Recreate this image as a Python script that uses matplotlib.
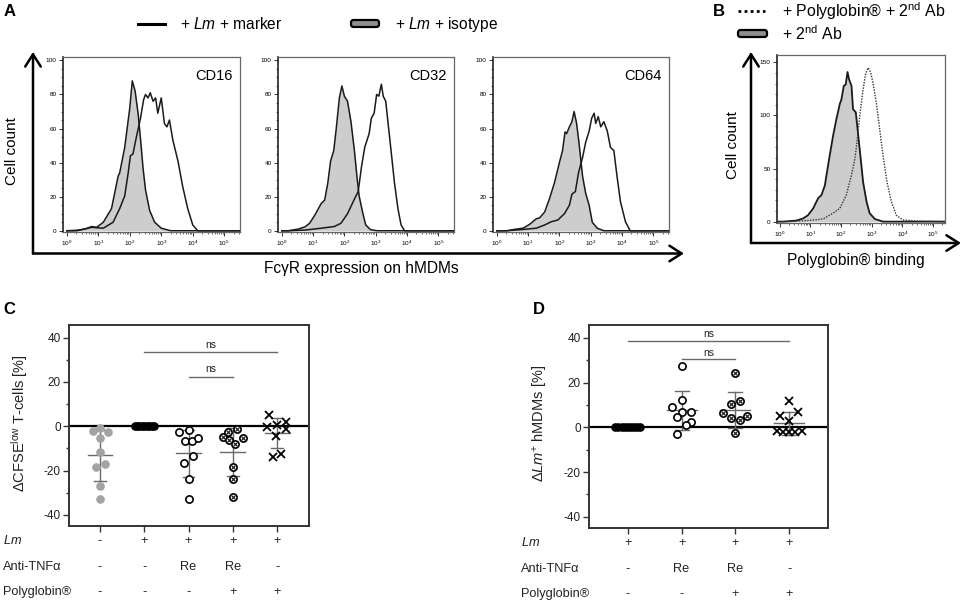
import numpy as np
import matplotlib
matplotlib.use('Agg')
import matplotlib.pyplot as plt
from matplotlib.patches import FancyBboxPatch
from matplotlib.transforms import blended_transform_factory

plt.rcParams['font.family'] = ['Liberation Sans', 'DejaVu Sans']
plt.rcParams['mathtext.fontset'] = 'custom'
plt.rcParams['mathtext.rm'] = 'Liberation Sans'
plt.rcParams['mathtext.it'] = 'Liberation Sans:italic'
plt.rcParams['mathtext.bf'] = 'Liberation Sans:bold'

# ---------------- data: panel A histograms (log10 fluorescence, cell count)
cd16_marker_x = [0.0, 0.32, 0.79, 1.16, 1.47, 1.68, 1.84, 1.95, 2.02, 2.1, 2.21, 2.34, 2.44, 2.5, 2.58,
                 2.65, 2.74, 2.82, 2.89, 3.0, 3.1, 3.18, 3.26, 3.37, 3.53, 3.68, 3.84, 4.0, 4.16, 5.5]
cd16_marker_y = [0, 0, 2, 1.5, 5, 13, 20.5, 34, 44, 45, 55, 66, 77, 80, 78,
                 81, 76, 78, 69, 78, 63, 61, 65, 53, 41, 26, 13, 3.4, 0, 0]
cd16_iso_x = [0.0, 0.32, 0.58, 0.79, 0.95, 1.16, 1.42, 1.63, 1.68, 1.84, 2.0, 2.08, 2.17, 2.27, 2.35,
              2.42, 2.5, 2.63, 2.79, 3.0, 3.3, 5.5]
cd16_iso_y = [0, 0.3, 1, 2.5, 2, 5, 13, 32, 34, 49, 72, 88, 82, 68, 52,
              37, 24, 12, 5, 1.5, 0, 0]

cd32_marker_x = [0.0, 0.21, 0.74, 1.26, 1.68, 1.89, 2.1, 2.32, 2.44, 2.55, 2.65, 2.79, 2.86, 2.95, 3.03,
                 3.1, 3.18, 3.24, 3.32, 3.39, 3.49, 3.6, 3.71, 3.81, 3.92, 5.5]
cd32_marker_y = [0, 0, 0.4, 1.5, 2.5, 4.4, 10, 18.6, 23, 38, 49, 57, 66, 69, 80,
                 79, 86, 79, 76, 64, 47, 28, 13, 3.4, 0, 0]
cd32_iso_x = [0.0, 0.21, 0.53, 0.74, 0.89, 1.05, 1.26, 1.37, 1.47, 1.56, 1.66, 1.74, 1.84, 1.92, 2.0,
              2.1, 2.21, 2.32, 2.4, 2.47, 2.58, 2.68, 2.84, 3.05, 5.5]
cd32_iso_y = [0, 0, 1, 2.3, 4.4, 9, 16, 18, 28, 41, 47, 60, 78, 85, 79,
              76, 64, 47, 32, 20.5, 11, 3.4, 0.6, 0, 0]

cd64_marker_x = [0.0, 0.32, 0.74, 1.26, 1.53, 1.74, 1.95, 2.16, 2.32, 2.4, 2.51, 2.61, 2.74, 2.84, 2.95,
                 3.03, 3.11, 3.16, 3.24, 3.32, 3.42, 3.53, 3.63, 3.74, 3.84, 3.95, 4.11, 4.26, 5.5]
cd64_marker_y = [0, 0, 0.6, 1.5, 3.4, 5.3, 6.3, 10, 15, 21.5, 23, 34, 43, 52, 58.5,
                 66, 69, 63, 67, 61, 64, 58.5, 49, 47, 32, 17, 5.3, 0, 0]
cd64_iso_x = [0.0, 0.32, 0.63, 0.84, 1.05, 1.26, 1.37, 1.53, 1.68, 1.84, 2.0, 2.1, 2.18, 2.23, 2.32,
              2.4, 2.47, 2.55, 2.63, 2.74, 2.84, 2.95, 3.05, 3.21, 3.42, 5.5]
cd64_iso_y = [0, 0, 1, 1.5, 3.8, 7, 7.6, 11, 18.6, 28, 40, 47, 58, 57, 61,
              64, 70, 63, 51, 32, 22, 15, 5, 1.5, 0, 0]

# ---------------- data: panel B
poly_x = [-0.1, 0.33, 0.98, 1.41, 1.74, 1.96, 2.17, 2.34, 2.45, 2.52, 2.61, 2.72, 2.8, 2.88, 2.96,
          3.04, 3.15, 3.26, 3.37, 3.5, 3.64, 3.8, 4.02, 4.46, 5.4]
poly_y = [0, 0, 1.2, 2.5, 8, 12.5, 25, 44, 59, 75, 100, 125, 139, 145, 141,
          131, 112, 87, 62, 37, 19, 6, 1.6, 0.6, 0]
ab2_x = [-0.1, 0.11, 0.54, 0.76, 0.92, 1.09, 1.25, 1.36, 1.47, 1.61, 1.74, 1.85, 1.96, 2.01, 2.09,
         2.15, 2.21, 2.26, 2.34, 2.39, 2.48, 2.55, 2.63, 2.72, 2.83, 2.93, 3.1, 3.37, 5.4]
ab2_y = [0, 0, 1, 3, 6, 12.5, 22, 25, 34, 59, 81, 97, 111, 115, 128,
         129, 141, 134, 128, 106, 103, 84, 62, 37, 19, 8, 2.5, 0, 0]

# ---------------- data: panel C (delta CFSE-low T cells, %)
c_group0 = [-2.0, -0.8, -2.7, -5.4, -11.7, -18.5, -17.0, -27.0, -33.0]
c_group1 = [0, 0, 0, 0, 0, 0, 0, 0, 0]
c_group2 = [-2.7, -1.5, -6.5, -6.8, -5.4, -13.5, -16.5, -24.0, -33.0]
c_group3 = [-5.0, -2.4, -1.2, -6.2, -8.0, -5.4, -18.5, -24.0, -32.0]
c_group4 = [5.3, -0.2, 0.8, 1.8, -1.2, -4.2, -12.5, -13.7]
c_lm = ['-', '+', '+', '+', '+']
c_tnf = ['-', '-', 'Re', 'Re', '-']
c_poly = ['-', '-', '-', '+', '+']

# ---------------- data: panel D (delta Lm+ hMDMs, %)
d_group0 = [0, 0, 0, 0, 0, 0, 0, 0, 0]
d_group1 = [27.3, 12.3, 9.0, 7.0, 7.0, 4.8, 2.3, 1.2, -3.0]
d_group2 = [24.2, 11.7, 10.2, 6.6, 4.0, 3.3, 5.2, -2.7]
d_group3 = [11.7, 6.7, 5.2, 3.0, -1.5, -2.2, -2.2, -2.2, -1.8]
d_lm = ['+', '+', '+', '+']
d_tnf = ['-', 'Re', 'Re', '-']
d_poly = ['-', '-', '+', '+']

# horizontal scatter of the points within a group (layout only)
c_off0 = [-0.165, 0, 0.19, 0, 0, -0.09, 0.12, 0, 0]
c_off2 = [-0.22, 0, -0.07, 0.08, 0.21, 0.1, -0.1, 0, 0]
c_off3 = [-0.23, -0.11, 0.1, -0.08, 0.06, 0.23, 0, 0, 0]
c_off4 = [-0.18, -0.23, 0, 0.19, 0.21, -0.02, 0.08, -0.1]
d_off1 = [0, 0, -0.17, 0, 0.17, -0.09, 0.17, 0.08, -0.09]
d_off2 = [0, 0.08, -0.09, -0.23, -0.09, 0.08, 0.21, 0]
d_off3 = [0, 0.17, -0.17, 0, -0.22, -0.12, 0, 0.1, 0.23]

W, H = 965, 605
fig = plt.figure(figsize=(W / 100, H / 100), dpi=100)


def px_axes(l, t, r, b):
    return fig.add_axes([l / W, 1 - b / H, (r - l) / W, (b - t) / H])


def hist_panel(ax, xm, ym, xi, yi, ymax, yticks, yminor, xlim, dotted=False, label=None):
    ax.fill_between(xi, yi, 0, color='#cdcdcd', lw=0, zorder=1)
    ax.plot(xi, yi, color='#1a1a1a', lw=1.3 if dotted else 1.1, zorder=2)
    if dotted:
        ax.plot(xm, ym, color='#333333', lw=1.0, ls=(0, (1, 1)), zorder=3)
    else:
        ax.plot(xm, ym, color='#1a1a1a', lw=1.1, zorder=3)
    ax.set_xlim(*xlim)
    ax.set_ylim(-0.01 * ymax, ymax)
    ax.set_xticks(range(6))
    ax.set_xticklabels([f'$10^{{{k}}}$' for k in range(6)], fontsize=4.6)
    minors = [np.log10(m) + k for k in range(0, 6) for m in range(2, 10)]
    ax.set_xticks([v for v in minors if xlim[0] < v < xlim[1]], minor=True)
    ax.set_yticks(yticks)
    ax.set_yticklabels([str(v) for v in yticks], fontsize=4.6)
    ax.set_yticks(yminor, minor=True)
    ax.tick_params(which='major', length=3, width=0.7, pad=1.5, color='#333333')
    ax.tick_params(which='minor', length=1.6, width=0.5, color='#333333')
    for s in ax.spines.values():
        s.set_color('#666666')
        s.set_linewidth(0.9)
    ax.spines['left'].set_color('#222222')
    ax.spines['left'].set_linewidth(1.2)
    if label:
        ax.text(0.96, 0.93, label, transform=ax.transAxes, ha='right', va='top', fontsize=10.5)


# ---------- panel A
axA1 = px_axes(63, 57, 240, 232.5)
hist_panel(axA1, cd16_marker_x, cd16_marker_y, cd16_iso_x, cd16_iso_y, 102, [0, 20, 40, 60, 80, 100],
           list(range(0, 101, 5)), (-0.12, 5.5), label='CD16')
axA2 = px_axes(278, 57, 454, 232.5)
hist_panel(axA2, cd32_marker_x, cd32_marker_y, cd32_iso_x, cd32_iso_y, 102, [0, 20, 40, 60, 80, 100],
           list(range(0, 101, 5)), (-0.12, 5.5), label='CD32')
axA3 = px_axes(493, 57, 669, 232.5)
hist_panel(axA3, cd64_marker_x, cd64_marker_y, cd64_iso_x, cd64_iso_y, 102, [0, 20, 40, 60, 80, 100],
           list(range(0, 101, 5)), (-0.12, 5.5), label='CD64')

# ---------- panel B
axB = px_axes(777, 55, 945, 223.3)
hist_panel(axB, poly_x, poly_y, ab2_x, ab2_y, 157, [0, 50, 100, 150], list(range(0, 151, 10)),
           (-0.09, 5.39), dotted=True)


# ---------- scatter panels
def dot_panel(ax, groups, offs, styles, ylab_lim):
    ax.axhline(0, color='black', lw=1.6, zorder=2)
    for i, (vals, off, st) in enumerate(zip(groups, offs, styles)):
        v = np.asarray(vals, dtype=float)
        xs = i + np.asarray(off)
        m, sd = v.mean(), v.std(ddof=1)
        ax.plot([i - 0.28, i + 0.28], [m, m], color='#6a6a6a', lw=1.0, zorder=3)
        ax.plot([i, i], [m - sd, m + sd], color='#6a6a6a', lw=1.0, zorder=3)
        for yy in (m - sd, m + sd):
            ax.plot([i - 0.13, i + 0.13], [yy, yy], color='#6a6a6a', lw=1.0, zorder=3)
        if st == 'gray':
            ax.plot(xs, v, 'o', ms=5.2, mfc='#a3a3a3', mec='#a3a3a3', zorder=4)
        elif st == 'black':
            ax.plot(xs, v, 'o', ms=5.2, mfc='black', mec='black', zorder=4)
        elif st == 'open':
            ax.plot(xs, v, 'o', ms=5.2, mfc='white', mec='black', mew=1.2, zorder=4)
        elif st == 'cross_circle':
            ax.plot(xs, v, 'o', ms=5.2, mfc='white', mec='black', mew=1.2, zorder=4)
            ax.plot(xs, v, 'x', ms=2.4, mec='#222222', mew=0.9, zorder=5)
        elif st == 'x':
            ax.plot(xs, v, 'x', ms=6, mec='black', mew=1.3, zorder=4)
    ax.set_ylim(*ylab_lim)
    ax.set_yticks([-40, -20, 0, 20, 40])
    ax.set_yticklabels(['-40', '-20', '0', '20', '40'], fontsize=8.5, color='#222222')
    ax.set_yticks(range(-40, 41, 10), minor=True)
    ax.set_xticks(range(len(groups)))
    ax.set_xticklabels([])
    ax.tick_params(which='major', length=4, width=1.0, color='#333333', pad=2)
    ax.tick_params(which='minor', length=2.5, width=1.0, color='#333333')
    for s in ax.spines.values():
        s.set_color('#333333')
        s.set_linewidth(1.4)


def sig(ax, x0, x1, y, ty):
    ax.plot([x0, x1], [y, y], color='#6a6a6a', lw=1.0)
    ax.text((x0 + x1) / 2, ty, 'ns', ha='center', va='center', fontsize=7.5, color='#222222')


axC = px_axes(69, 325, 309, 526)
dot_panel(axC, [c_group0, c_group1, c_group2, c_group3, c_group4],
          [c_off0, list(np.linspace(-0.22, 0.22, 9)), c_off2, c_off3, c_off4],
          ['gray', 'black', 'open', 'cross_circle', 'x'], (-45, 45.7))
axC.set_xlim(-0.7, 4.72)
sig(axC, 1, 4, 33.3, 36.8)
sig(axC, 2, 3, 22.4, 25.8)

axD = px_axes(589, 325, 828, 528)
dot_panel(axD, [d_group0, d_group1, d_group2, d_group3],
          [list(np.linspace(-0.23, 0.23, 9)), d_off1, d_off2, d_off3],
          ['black', 'open', 'cross_circle', 'x'], (-45, 45.7))
axD.set_xlim(-0.72, 3.72)
sig(axD, 0, 3, 38.5, 41.6)
sig(axD, 1, 2, 30.3, 33.4)

# ---------- overlay for annotations
ov = fig.add_axes([0, 0, 1, 1], zorder=10)
ov.set_xlim(0, W)
ov.set_ylim(H, 0)
ov.axis('off')
ov.patch.set_alpha(0)

arrow = dict(arrowstyle='->,head_length=0.55,head_width=0.35', lw=1.8, color='black',
             mutation_scale=16, shrinkA=0, shrinkB=0)
ov.annotate('', xy=(33, 52), xytext=(33, 253.5), arrowprops=arrow)
ov.annotate('', xy=(684, 253.5), xytext=(33, 253.5), arrowprops=arrow)
ov.annotate('', xy=(751, 52), xytext=(751, 243), arrowprops=arrow)
ov.annotate('', xy=(961, 243), xytext=(751, 243), arrowprops=arrow)

# panel letters
for txt, x, y in [('A', 4, 11), ('B', 713, 11), ('C', 3, 309), ('D', 533, 309)]:
    ov.text(x, y, txt, fontsize=12, fontweight='bold', ha='left', va='center')

# legend A
ov.plot([138, 165], [23.5, 23.5], color='black', lw=2.2)
ov.text(180, 24, r'+ $\it{Lm}$ + marker', fontsize=11.2, ha='left', va='center')
ov.add_patch(FancyBboxPatch((351, 20), 28, 7, boxstyle='round,pad=0,rounding_size=2.5',
                            fc='#8f8f8f', ec='black', lw=1.6))
ov.text(395, 24, r'+ $\it{Lm}$ + isotype', fontsize=11.2, ha='left', va='center')

# legend B
ov.plot([738, 765], [10.5, 10.5], color='black', lw=2.0, ls=(0, (1, 1.2)))
ov.text(782, 11, r'+ Polyglobin® + 2$^{\rm nd}$ Ab', fontsize=11.4, ha='left', va='center')
ov.add_patch(FancyBboxPatch((738, 30), 29, 7, boxstyle='round,pad=0,rounding_size=2.5',
                            fc='#8f8f8f', ec='black', lw=1.6))
ov.text(782, 34, r'+ 2$^{\rm nd}$ Ab', fontsize=11.4, ha='left', va='center')

# axis titles
ov.text(12, 151, 'Cell count', fontsize=11, rotation=90, ha='center', va='center')
ov.text(361, 269, 'FcγR expression on hMDMs', fontsize=11.2, ha='center', va='center')
ov.text(733, 145, 'Cell count', fontsize=11, rotation=90, ha='center', va='center')
ov.text(856, 260, 'Polyglobin® binding', fontsize=11.2, ha='center', va='center')

ov.text(20, 423, r'ΔCFSE$^{\rm low}$ T-cells [%]', fontsize=10.5, rotation=90,
        ha='center', va='center', color='#222222')
ov.text(540, 423, r'Δ$\it{Lm}$$^{+}$ hMDMs [%]', fontsize=10.5, rotation=90,
        ha='center', va='center', color='#222222')


# condition tables
def table(ax, x_lab, ys, rows):
    tr = blended_transform_factory(ax.transData, ov.transData)
    names = [r'$\it{Lm}$', 'Anti-TNFα', 'Polyglobin®']
    for name, y, row in zip(names, ys, rows):
        ov.text(x_lab, y, name, fontsize=9.2, ha='left', va='center', color='#222222')
        for i, s in enumerate(row):
            ov.text(i, y, s, transform=tr, fontsize=9.2, ha='center', va='center', color='#222222')


table(axC, 3, [541, 567, 592], [c_lm, c_tnf, c_poly])
table(axD, 521, [543, 569, 594], [d_lm, d_tnf, d_poly])

fig.savefig('out.png', dpi=100)
